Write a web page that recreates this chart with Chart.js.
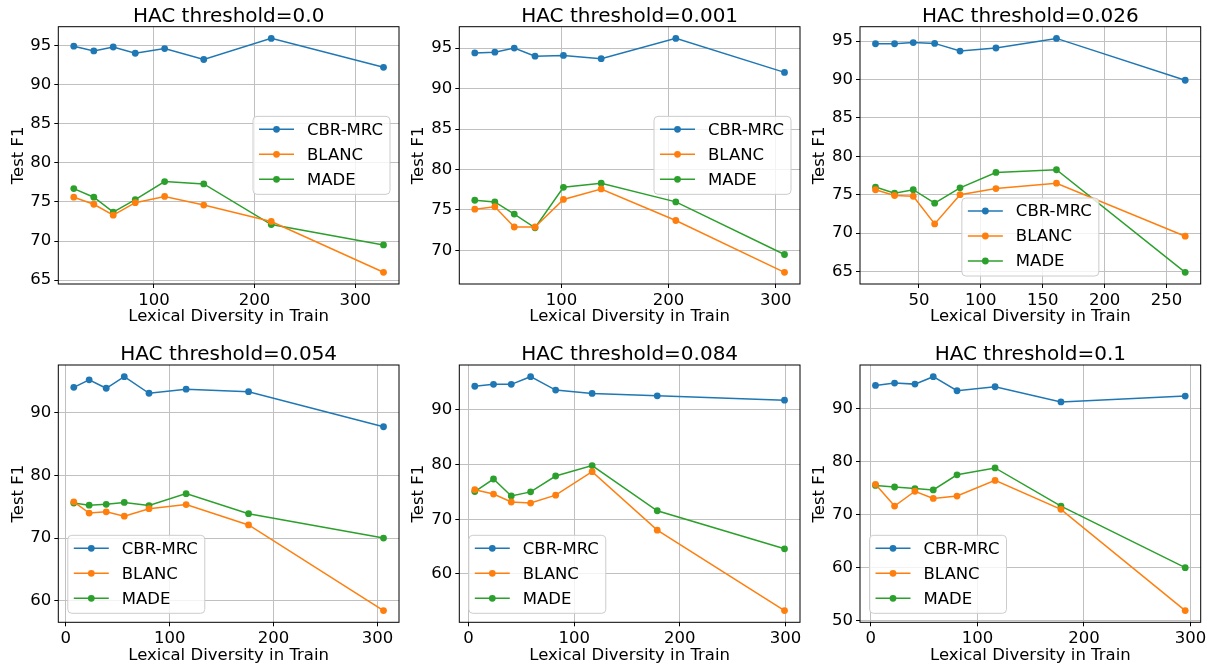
<!DOCTYPE html>
<html>
<head>
<meta charset="utf-8">
<script src="https://cdn.jsdelivr.net/npm/chart.js@4.4.1/dist/chart.umd.min.js"></script>
<style>
  body { margin: 0; background: #fff; }
  #wrap { position: relative; width: 1214px; height: 668px; overflow: hidden; }
  .cell { position: absolute; }
</style>
</head>
<body>
<div id="wrap"></div>
<script>
// Dữ liệu: độ đa dạng từ vựng (trục x) và Test F1 cho từng ngưỡng HAC
const seriesNames = ["CBR-MRC", "BLANC", "MADE"];
const seriesColors = ["#1f77b4", "#ff7f0e", "#2ca02c"];
const panelTitles = ["HAC threshold=0.0", "HAC threshold=0.001", "HAC threshold=0.026",
                     "HAC threshold=0.054", "HAC threshold=0.084", "HAC threshold=0.1"];

// HAC threshold=0.0
const lexDiv0 = [20.3, 40.2, 59.5, 81.4, 110.6, 149.5, 216.6, 328.2];
const cbrMrc0 = [94.9, 94.3, 94.8, 94.0, 94.6, 93.2, 95.9, 92.2];
const blanc0  = [75.6, 74.7, 73.3, 74.9, 75.7, 74.6, 72.5, 66.0];
const made0   = [76.7, 75.6, 73.7, 75.3, 77.6, 77.3, 72.1, 69.5];
const xTicks0 = [100, 200, 300];
const yTicks0 = [65, 70, 75, 80, 85, 90, 95];

// HAC threshold=0.001
const lexDiv1 = [19.2, 37.9, 56.0, 75.4, 101.9, 137.1, 206.7, 308.1];
const cbrMrc1 = [94.4, 94.5, 95.0, 94.0, 94.1, 93.7, 96.2, 92.0];
const blanc1  = [75.1, 75.4, 72.9, 72.9, 76.3, 77.6, 73.7, 67.3];
const made1   = [76.2, 76.0, 74.5, 72.8, 77.8, 78.3, 76.0, 69.5];
const xTicks1 = [100, 200, 300];
const yTicks1 = [70, 75, 80, 85, 90, 95];

// HAC threshold=0.026
const lexDiv2 = [14.9, 30.3, 45.4, 62.7, 83.2, 112.2, 161.1, 265.1];
const cbrMrc2 = [94.65, 94.65, 94.8, 94.7, 93.7, 94.1, 95.35, 89.9];
const blanc2  = [75.65, 74.9, 74.8, 71.2, 75.0, 75.8, 76.5, 69.6];
const made2   = [76.0, 75.2, 75.65, 73.9, 75.9, 77.9, 78.25, 64.9];
const xTicks2 = [50, 100, 150, 200, 250];
const yTicks2 = [65, 70, 75, 80, 85, 90, 95];

// HAC threshold=0.054
const lexDiv3 = [7.7, 22.5, 38.9, 56.3, 80.1, 115.8, 175.9, 305.8];
const cbrMrc3 = [94.1, 95.3, 93.95, 95.8, 93.15, 93.8, 93.4, 87.8];
const blanc3  = [75.8, 74.0, 74.2, 73.5, 74.7, 75.35, 72.1, 58.4];
const made3   = [75.6, 75.25, 75.4, 75.7, 75.2, 77.1, 73.9, 70.0];
const xTicks3 = [0, 100, 200, 300];
const yTicks3 = [60, 70, 80, 90];

// HAC threshold=0.084
const lexDiv4 = [6.0, 23.7, 40.5, 58.8, 82.5, 117.0, 178.6, 299.0];
const cbrMrc4 = [94.3, 94.65, 94.65, 96.05, 93.6, 93.0, 92.55, 91.75];
const blanc4  = [75.4, 74.6, 73.15, 72.95, 74.4, 78.7, 68.0, 53.3];
const made4   = [75.05, 77.35, 74.25, 75.0, 77.9, 79.8, 71.55, 64.6];
const xTicks4 = [0, 100, 200, 300];
const yTicks4 = [60, 70, 80, 90];

// HAC threshold=0.1
const lexDiv5 = [4.4, 22.3, 41.4, 58.6, 80.9, 116.6, 178.4, 295.0];
const cbrMrc5 = [94.35, 94.8, 94.6, 96.0, 93.35, 94.1, 91.25, 92.35];
const blanc5  = [75.7, 71.6, 74.4, 73.05, 73.5, 76.45, 71.0, 51.9];
const made5   = [75.5, 75.2, 74.9, 74.65, 77.5, 78.8, 71.6, 60.0];
const xTicks5 = [0, 100, 200, 300];
const yTicks5 = [50, 60, 70, 80, 90];

const panels = [
  { x: lexDiv0, ys: [cbrMrc0, blanc0, made0], xTicks: xTicks0, yTicks: yTicks0, loc: "center right" },
  { x: lexDiv1, ys: [cbrMrc1, blanc1, made1], xTicks: xTicks1, yTicks: yTicks1, loc: "center right" },
  { x: lexDiv2, ys: [cbrMrc2, blanc2, made2], xTicks: xTicks2, yTicks: yTicks2, loc: "lower center" },
  { x: lexDiv3, ys: [cbrMrc3, blanc3, made3], xTicks: xTicks3, yTicks: yTicks3, loc: "lower left" },
  { x: lexDiv4, ys: [cbrMrc4, blanc4, made4], xTicks: xTicks4, yTicks: yTicks4, loc: "lower left" },
  { x: lexDiv5, ys: [cbrMrc5, blanc5, made5], xTicks: xTicks5, yTicks: yTicks5, loc: "lower left" },
];

// Bố cục lưới 2x3
const colLeft = [0, 404, 805];
const colWidth = [404, 401, 409];
const yAxisWidth = [58.3, 55.3, 55];
const rightPad = [5, 5, 13.3];
const yTitlePad = [9.1, 5.1, 4.6];
const rowTop = [0, 338];
const rowHeight = [338, 330];
const topPad = [26.7, 27];
const xAxisHeight = [54, 45.7];
const xTitlePad = [11.4, 2.6];

const FONT = "'DejaVu Sans', sans-serif";
const BASE = 16.5;

// Tiêu đề, khung trục và chú giải vẽ theo vùng biểu đồ
const framePlugin = {
  id: "frameLegend",
  afterDatasetsDraw(chart, args, opts) {
    const ctx = chart.ctx;
    const ca = chart.chartArea;
    ctx.save();
    ctx.strokeStyle = "#000";
    ctx.lineWidth = 1;
    ctx.strokeRect(ca.left, ca.top, ca.right - ca.left, ca.bottom - ca.top);

    // tiêu đề căn giữa theo trục
    ctx.font = "20px " + FONT;
    ctx.fillStyle = "#000";
    ctx.textAlign = "center";
    ctx.textBaseline = "alphabetic";
    ctx.fillText(opts.title, (ca.left + ca.right) / 2, ca.top - 5);

    ctx.font = BASE + "px " + FONT;
    const textW = Math.max(...chart.data.datasets.map(d => ctx.measureText(d.label).width));
    const w = 54 + textW + 7;
    const h = 78;
    let left, top;
    if (opts.loc === "center right") {
      left = ca.right - 9 - w;
      top = (ca.top + ca.bottom) / 2 - h / 2;
    } else if (opts.loc === "lower center") {
      left = (ca.left + ca.right) / 2 - w / 2;
      top = ca.bottom - 8 - h;
    } else {
      left = ca.left + 9.5;
      top = ca.bottom - 9 - h;
    }
    const r = 4;
    ctx.beginPath();
    ctx.moveTo(left + r, top);
    ctx.arcTo(left + w, top, left + w, top + h, r);
    ctx.arcTo(left + w, top + h, left, top + h, r);
    ctx.arcTo(left, top + h, left, top, r);
    ctx.arcTo(left, top, left + w, top, r);
    ctx.closePath();
    ctx.fillStyle = "rgba(255,255,255,0.8)";
    ctx.fill();
    ctx.strokeStyle = "#cccccc";
    ctx.stroke();

    chart.data.datasets.forEach((d, i) => {
      const y = top + 13 + i * 25;
      ctx.strokeStyle = d.borderColor;
      ctx.lineWidth = 1.5;
      ctx.beginPath();
      ctx.moveTo(left + 6, y);
      ctx.lineTo(left + 41, y);
      ctx.stroke();
      ctx.fillStyle = d.borderColor;
      ctx.beginPath();
      ctx.arc(left + 23.5, y, 3.4, 0, Math.PI * 2);
      ctx.fill();
      ctx.fillStyle = "#000";
      ctx.textBaseline = "middle";
      ctx.textAlign = "left";
      ctx.fillText(d.label, left + 54, y + 1);
    });
    ctx.restore();
  }
};

function padRange(arr) {
  const lo = Math.min(...arr), hi = Math.max(...arr);
  const m = (hi - lo) * 0.05;
  return [lo - m, hi + m];
}

const wrap = document.getElementById("wrap");

panels.forEach((p, idx) => {
  const col = idx % 3, row = Math.floor(idx / 3);
  const div = document.createElement("div");
  div.className = "cell";
  div.style.left = colLeft[col] + "px";
  div.style.top = rowTop[row] + "px";
  const canvas = document.createElement("canvas");
  canvas.width = colWidth[col];
  canvas.height = rowHeight[row];
  div.appendChild(canvas);
  wrap.appendChild(div);

  const [xMin, xMax] = padRange(p.x);
  const [yMin, yMax] = padRange([].concat(...p.ys));

  new Chart(canvas, {
    type: "line",
    data: {
      datasets: p.ys.map((ys, s) => ({
        label: seriesNames[s],
        data: p.x.map((v, i) => ({ x: v, y: ys[i] })),
        borderColor: seriesColors[s],
        backgroundColor: seriesColors[s],
        pointBackgroundColor: seriesColors[s],
        borderWidth: 1.5,
        pointRadius: 3.4,
        pointBorderWidth: 0,
        fill: false,
        tension: 0,
      })),
    },
    options: {
      responsive: false,
      animation: false,
      events: [],
      layout: { padding: { left: 0, right: rightPad[col], top: topPad[row], bottom: 0 } },
      plugins: {
        legend: { display: false },
        tooltip: { enabled: false },
        title: { display: false },
        frameLegend: { loc: p.loc, title: panelTitles[idx] },
      },
      scales: {
        x: {
          type: "linear",
          min: xMin,
          max: xMax,
          afterBuildTicks: s => { s.ticks = p.xTicks.map(v => ({ value: v })); },
          afterFit: s => { s.height = xAxisHeight[row]; s.paddingLeft = 0; s.paddingRight = 0; },
          ticks: { color: "#000", font: { family: FONT, size: BASE }, padding: 3, maxRotation: 0, callback: v => String(v) },
          grid: { color: "#c0c0c0", lineWidth: 1, drawTicks: true, tickLength: 4, tickColor: "#000" },
          border: { display: false },
          title: {
            display: true, text: "Lexical Diversity in Train", color: "#000",
            font: { family: FONT, size: BASE }, padding: { top: 0, bottom: xTitlePad[row] },
          },
        },
        y: {
          type: "linear",
          min: yMin,
          max: yMax,
          afterBuildTicks: s => { s.ticks = p.yTicks.map(v => ({ value: v })); },
          afterFit: s => { s.width = yAxisWidth[col]; s.paddingTop = 0; s.paddingBottom = 0; },
          ticks: { color: "#000", font: { family: FONT, size: BASE }, padding: 3, callback: v => String(v) },
          grid: { color: "#c0c0c0", lineWidth: 1, drawTicks: true, tickLength: 4, tickColor: "#000" },
          border: { display: false },
          title: {
            display: true, text: "Test F1", color: "#000",
            font: { family: FONT, size: BASE }, padding: { top: yTitlePad[col], bottom: 0 },
          },
        },
      },
    },
    plugins: [framePlugin],
  });
});
</script>
</body>
</html>
